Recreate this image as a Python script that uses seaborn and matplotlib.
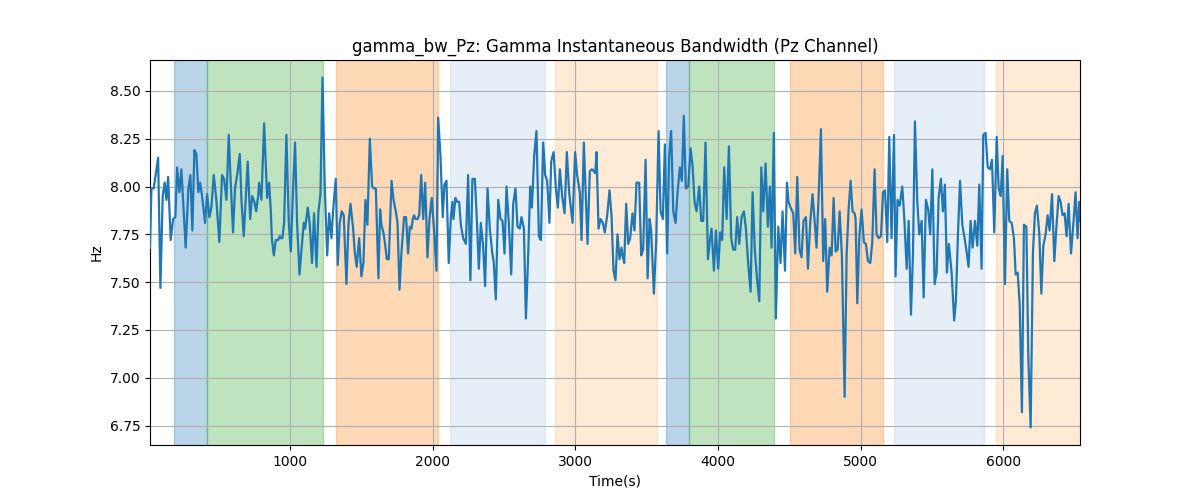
import matplotlib
matplotlib.use("Agg")
import matplotlib.pyplot as plt
import seaborn as sns
import numpy as np

# ---- data ----
time_s = [
    18, 28, 44, 75, 91, 107, 121, 133, 145, 163, 180, 196, 208, 224, 238, 268, 287, 301, 315, 329,
    343, 357, 369, 383, 404, 418, 434, 448, 465, 483, 504, 523, 537, 554, 570, 584, 600, 614, 631, 647,
    659, 675, 689, 703, 720, 734, 750, 762, 776, 783, 799, 818,
    839, 853, 865, 872, 886, 900, 916, 928, 935, 946, 958, 974, 991, 1005, 1021, 1035, 1049, 1066,
    1082, 1096, 1105, 1124, 1138, 1154, 1168, 1185, 1199, 1213, 1227, 1243, 1260, 1274, 1290, 1302,
    1320, 1334, 1348, 1362, 1376, 1395, 1409, 1423, 1442, 1453, 1467, 1484, 1500, 1514, 1528, 1542,
    1559, 1575, 1587, 1601, 1619,
    1631, 1640, 1654, 1664, 1678, 1692, 1711, 1725, 1741, 1753, 1767, 1781, 1799, 1813, 1827, 1839,
    1851, 1860, 1869, 1879, 1893, 1905, 1919, 1933, 1947, 1963, 1977, 1993, 2010, 2026, 2038, 2054,
    2070, 2082, 2096, 2112, 2126, 2138, 2145, 2159, 2171, 2185, 2197, 2213, 2232, 2248, 2264, 2278,
    2295, 2309, 2323, 2337, 2353, 2367, 2384, 2400, 2416, 2428, 2442,
    2459, 2475, 2489, 2503, 2517, 2533, 2550, 2564, 2580, 2594, 2610, 2622, 2639, 2653, 2669, 2683,
    2695, 2711, 2727, 2744, 2758, 2774, 2788, 2802, 2818, 2830, 2847, 2863, 2877, 2891, 2907, 2924,
    2940, 2956, 2980, 2998, 3012, 3031, 3043, 3059, 3071, 3085, 3101, 3115, 3129, 3139, 3148, 3162,
    3176, 3192, 3206, 3223, 3239,
    3253, 3267, 3281, 3295, 3309, 3323, 3330, 3342, 3356, 3370, 3384, 3400, 3414, 3428, 3447, 3461,
    3475, 3492, 3506, 3520, 3531, 3550, 3566, 3583, 3597, 3613, 3627, 3643, 3657, 3671, 3686, 3702,
    3716, 3732, 3746, 3760, 3774, 3791, 3807, 3821, 3835, 3849, 3868, 3882, 3896, 3912, 3929, 3943,
    3954, 3971, 3985, 4001, 4015, 4029, 4043,
    4060, 4076, 4092, 4106, 4120, 4134, 4148, 4165, 4181, 4195, 4211, 4228, 4242, 4258, 4275, 4289,
    4303, 4317, 4333, 4349, 4363, 4375, 4391, 4405, 4422, 4438, 4452, 4469, 4483, 4494, 4508, 4527,
    4541, 4555, 4571, 4585, 4599, 4616, 4630, 4646, 4662, 4679, 4690, 4707, 4721, 4737, 4751, 4765,
    4782, 4796, 4810, 4824, 4838, 4852,
    4868, 4887, 4901, 4915, 4929, 4943, 4957, 4964, 4976, 4990, 5006, 5022, 5036, 5051, 5067, 5081,
    5097, 5111, 5125, 5142, 5156, 5170, 5186, 5200, 5216, 5233, 5244, 5258, 5273, 5291, 5305, 5322,
    5336, 5352, 5366, 5380, 5396, 5410, 5427, 5441, 5457, 5473, 5487, 5502, 5518, 5532, 5546, 5562,
    5576, 5590, 5604, 5618, 5637, 5655,
    5667, 5681, 5696, 5712, 5728, 5742, 5756, 5770, 5784, 5801, 5817, 5831, 5847, 5859, 5875, 5890,
    5906, 5920, 5936, 5953, 5967, 5981, 5995, 6011, 6027, 6041, 6058, 6074, 6086, 6100, 6114, 6130,
    6144, 6161, 6175, 6191, 6207, 6221, 6235, 6252, 6266, 6280, 6296, 6310, 6324, 6341, 6357, 6369,
    6387, 6401, 6415, 6429, 6443, 6457, 6474, 6490, 6506, 6520, 6532, 6537,
]

bandwidth_hz = [
    7.68, 7.99, 7.99, 8.15, 7.47, 7.95, 8.02, 7.93, 8.05, 7.72, 7.83, 7.84, 8.10, 7.97, 8.09, 7.68, 7.99, 8.06, 7.77, 8.19,
    8.17, 7.97, 8.02, 7.95, 7.81, 7.96, 7.84, 7.89, 8.06, 7.93, 7.71, 8.06, 8.04, 7.93, 8.27, 8.02, 7.76, 7.99, 8.07, 8.17,
    7.93, 7.74, 7.93, 8.13, 7.83, 7.95, 7.92, 7.87, 7.95, 8.02, 7.93, 8.33,
    7.94, 8.02, 7.87, 7.73, 7.64, 7.72, 7.72, 7.74, 7.73, 7.73, 7.81, 8.27, 7.81, 7.66, 7.99, 8.23, 7.81, 7.54,
    7.69, 7.81, 7.78, 7.89, 7.80, 7.60, 7.86, 7.58, 7.87, 7.96, 8.57, 8.00, 7.64, 7.86, 7.73, 7.88,
    8.04, 7.59, 7.81, 7.87, 7.85, 7.49, 7.80, 7.91, 7.78, 7.66, 7.58, 7.73, 7.53, 7.60, 7.93, 7.80,
    8.25, 8.00, 7.99, 7.99, 7.52,
    7.88, 7.80, 7.76, 7.71, 7.62, 7.62, 8.03, 7.93, 7.87, 7.81, 7.46, 7.66, 7.84, 7.84, 7.65, 7.79,
    7.78, 7.83, 7.85, 7.83, 7.83, 7.85, 8.06, 7.83, 8.02, 7.63, 7.83, 7.94, 7.76, 7.56, 8.36, 8.16,
    7.84, 8.01, 8.03, 7.60, 7.83, 7.92, 7.83, 7.94, 7.92, 7.92, 7.80, 7.73, 7.70, 8.06, 7.51, 8.04,
    8.04, 7.83, 7.57, 7.81, 7.69, 7.48, 7.99, 7.78, 7.66, 7.60, 7.41,
    7.93, 7.83, 7.82, 7.65, 8.00, 7.81, 7.54, 7.91, 7.99, 7.79, 7.78, 7.84, 7.78, 7.31, 7.64, 8.00,
    7.89, 8.16, 8.29, 7.74, 7.72, 8.23, 8.06, 8.03, 7.81, 8.13, 8.18, 7.99, 7.89, 8.09, 7.95, 7.86,
    8.18, 7.97, 7.81, 8.18, 8.06, 7.97, 7.72, 8.23, 7.99, 7.70, 8.08, 8.09, 8.08, 8.07, 8.18, 7.78,
    7.83, 7.81, 7.76, 7.85, 7.98,
    7.85, 7.56, 7.51, 7.75, 7.62, 7.68, 7.64, 7.60, 7.91, 7.70, 7.73, 7.86, 7.77, 8.02, 8.02, 7.64,
    7.67, 8.14, 7.52, 7.83, 7.77, 7.44, 7.71, 8.29, 7.87, 7.83, 8.22, 7.65, 8.16, 8.29, 7.87, 7.81,
    7.97, 8.10, 8.03, 8.37, 7.99, 8.00, 8.20, 8.11, 7.92, 7.87, 8.00, 7.82, 7.82, 8.23, 7.62, 7.72,
    7.78, 7.56, 7.77, 7.57, 7.76, 7.72, 8.10,
    7.83, 8.21, 7.73, 7.67, 7.67, 7.84, 7.70, 7.84, 7.87, 7.78, 7.60, 7.45, 7.97, 7.66, 7.50, 7.40,
    8.10, 7.87, 8.12, 7.79, 8.00, 7.68, 8.28, 7.31, 7.79, 7.60, 7.87, 7.56, 8.02, 7.92, 7.89, 7.86,
    7.65, 8.05, 7.67, 7.63, 7.82, 7.84, 7.57, 7.81, 7.96, 7.80, 7.68, 7.99, 8.30, 7.61, 7.83, 7.45,
    7.68, 7.64, 7.94, 7.66, 7.67, 7.87,
    7.64, 6.90, 7.64, 7.88, 8.03, 7.87, 7.86, 7.83, 7.39, 7.74, 7.88, 7.71, 7.70, 7.61, 7.60, 7.71,
    8.09, 7.75, 7.73, 7.74, 7.97, 7.98, 7.71, 8.26, 7.73, 8.27, 7.53, 7.93, 7.90, 8.00, 7.84, 7.57,
    7.82, 7.33, 7.64, 8.34, 7.93, 7.75, 7.82, 7.42, 7.93, 7.88, 7.75, 8.09, 7.49, 7.55, 7.94, 8.04,
    7.87, 8.01, 7.55, 7.70, 7.55, 7.30,
    7.40, 7.74, 8.03, 7.80, 7.73, 7.66, 7.58, 7.82, 7.68, 7.82, 7.69, 8.01, 7.57, 8.27, 8.28, 8.10,
    8.09, 8.14, 7.76, 8.26, 7.99, 7.95, 8.16, 7.49, 8.09, 7.82, 7.81, 7.73, 7.54, 7.55, 7.39, 6.82,
    7.80, 7.79, 7.10, 6.74, 7.65, 7.86, 7.90, 7.75, 7.44, 7.69, 7.75, 7.85, 7.77, 7.96, 7.61, 7.76,
    7.95, 7.92, 7.85, 7.86, 7.74, 7.91, 7.65, 7.80, 7.97, 7.73, 7.92, 7.82,
]

# shaded segments (start, end, colour)
span_starts = [187, 417, 1320, 2120, 2859, 3637, 3798, 4504, 5234, 5949]
span_ends = [417, 1234, 2038, 2784, 3569, 3798, 4390, 5154, 5862, 6600]
span_colors = ["#1f77b4", "#2ca02c", "#ff7f0e", "#aec7e8", "#ffbb78",
               "#1f77b4", "#2ca02c", "#ff7f0e", "#aec7e8", "#ffbb78"]

title = "gamma_bw_Pz: Gamma Instantaneous Bandwidth (Pz Channel)"

fig, ax = plt.subplots(figsize=(12, 5), dpi=100)

for s, e, c in zip(span_starts, span_ends, span_colors):
    ax.axvspan(s, e, color=c, alpha=0.3, zorder=0)

sns.lineplot(x=time_s, y=bandwidth_hz, ax=ax, color="#1f77b4", linewidth=1.6, zorder=3)

ax.set_xlim(min(time_s), max(time_s))
ax.grid(True)
ax.set_title(title)
ax.set_xlabel("Time(s)")
ax.set_ylabel("Hz")

fig.savefig("out.png", dpi=100)
